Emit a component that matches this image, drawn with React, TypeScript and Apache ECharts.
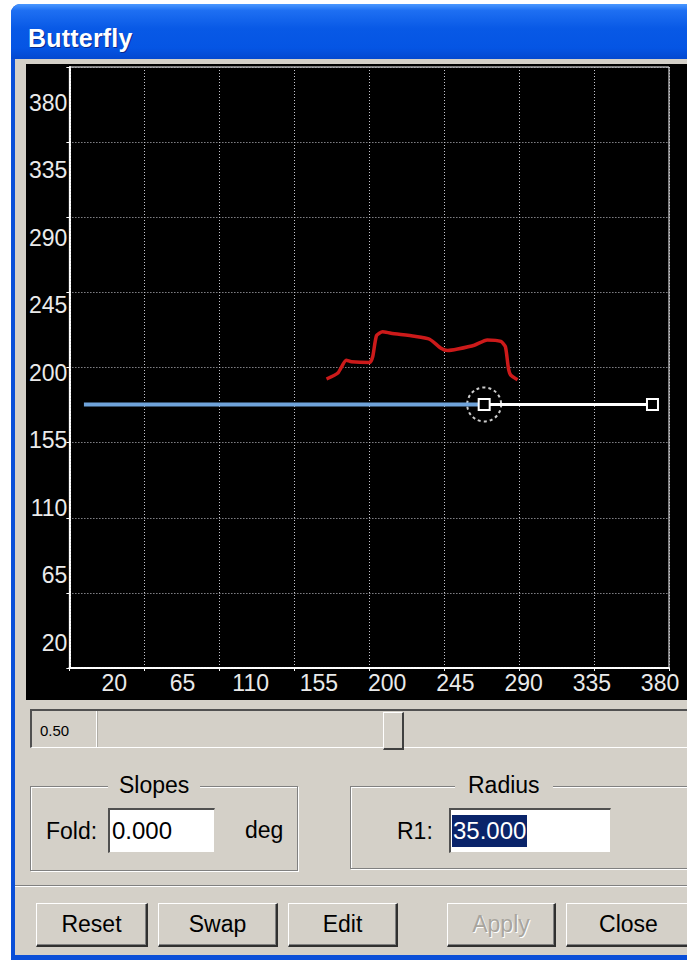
import React, { useEffect, useRef } from 'react';
import * as echarts from 'echarts';

// ---- data ----
const xTickLabels = [20, 65, 110, 155, 200, 245, 290, 335, 380];
const yTickLabels = [20, 65, 110, 155, 200, 245, 290, 335, 380];
const profileX = [160, 167.5, 173, 176.5, 188.5, 190.5, 193, 197, 202.5, 218, 228, 235.5, 240, 246.5, 257.5, 266, 275, 278, 280, 281.5, 286];
const profileY = [196, 200, 208.5, 207.5, 207, 211, 225, 227.5, 226.5, 224.5, 222.5, 216.5, 215, 216, 218.5, 222, 221, 217.5, 203, 198.5, 195.5];
const baselineY = 179;
const blueSegX = [0, 264];
const whiteSegX = [264, 375];
const X_RANGE = [-9.6, 385.9];
const Y_RANGE = [3.3, 404];
const GRID_DIVS = 8;

const FONT = '"Liberation Sans", Arial, Helvetica, sans-serif';
const BG = '#D4D0C8';

const option: any = {
  animation: false,
  backgroundColor: '#000',
  grid: { left: 41, top: 3, width: 602, height: 601, show: true, borderColor: '#ffffff', borderWidth: 1, backgroundColor: '#000' },
  xAxis: [
    {
      type: 'value', min: X_RANGE[0], max: X_RANGE[1], position: 'bottom',
      axisLine: { show: true, onZero: false, lineStyle: { color: '#fff', width: 2, type: [2, 1] } },
      axisTick: { show: false }, splitLine: { show: false },
      axisLabel: { customValues: xTickLabels, color: '#EAEAEA', fontSize: 23, fontFamily: FONT, margin: 3 },
    },
    {
      type: 'value', min: 0, max: GRID_DIVS, interval: 1, position: 'bottom',
      axisLine: { show: false, onZero: false }, axisLabel: { show: false },
      axisTick: { show: true, length: 3, lineStyle: { color: '#fff', width: 1 } },
      splitLine: { show: true, lineStyle: { color: '#C4C4CC', width: 1, type: [1, 2] } },
    },
  ],
  yAxis: [
    {
      type: 'value', min: Y_RANGE[0], max: Y_RANGE[1], position: 'left',
      axisLine: { show: true, onZero: false, lineStyle: { color: '#fff', width: 2, type: [2, 1] } },
      axisTick: { show: false }, splitLine: { show: false },
      axisLabel: { customValues: yTickLabels, color: '#EAEAEA', fontSize: 23, fontFamily: FONT, margin: 2 },
    },
    {
      type: 'value', min: 0, max: GRID_DIVS, interval: 1, position: 'left',
      axisLine: { show: false, onZero: false }, axisLabel: { show: false },
      axisTick: { show: true, length: 3, lineStyle: { color: '#fff', width: 1 } },
      splitLine: { show: true, lineStyle: { color: '#C4C4CC', width: 1, type: [1, 2] } },
    },
  ],
  series: [
    {
      type: 'line', xAxisIndex: 0, yAxisIndex: 0, symbol: 'none', smooth: 0.2,
      data: profileX.map((x, i) => [x, profileY[i]]),
      lineStyle: { color: '#CC1A1A', width: 3.5 },
    },
    {
      type: 'line', xAxisIndex: 0, yAxisIndex: 0, symbol: 'none',
      data: blueSegX.map((x) => [x, baselineY]),
      lineStyle: { color: '#6FA3DA', width: 4 },
    },
    {
      type: 'line', xAxisIndex: 0, yAxisIndex: 0, symbol: 'rect', symbolSize: 11, showSymbol: true,
      data: whiteSegX.map((x) => [x, baselineY]),
      lineStyle: { color: '#fff', width: 3 },
      itemStyle: { color: '#000', borderColor: '#fff', borderWidth: 2 },
    },
    {
      type: 'scatter', xAxisIndex: 0, yAxisIndex: 0, symbol: 'circle', symbolSize: 34,
      data: [[whiteSegX[0], baselineY]],
      itemStyle: { color: 'transparent', borderColor: '#fff', borderWidth: 2, borderType: [3, 3] },
    },
  ],
};

const abs = (l: number, t: number, w: number, h: number, extra: any = {}) => ({
  position: 'absolute' as const, left: l, top: t, width: w, height: h, boxSizing: 'border-box' as const, ...extra,
});

function Button({ left, width, label, disabled }: { left: number; width: number; label: string; disabled?: boolean }) {
  return (
    <div style={abs(left, 903, width, 44, {
      background: BG,
      borderTop: '1px solid #fff', borderLeft: '1px solid #fff',
      borderRight: '2px solid #303030', borderBottom: '2px solid #303030',
      boxShadow: 'inset -1px -1px 0 #808080',
      display: 'flex', alignItems: 'center', justifyContent: 'center',
      fontSize: 23, color: disabled ? '#A8A59E' : '#000',
      textShadow: disabled ? '1px 1px 0 #fff' : 'none',
    })}>{label}</div>
  );
}

export default function App() {
  const ref = useRef<HTMLDivElement>(null);
  useEffect(() => {
    const chart = echarts.init(ref.current!, null, { renderer: 'svg' });
    chart.setOption(option);
    return () => chart.dispose();
  }, []);
  return (
    <div style={{ position: 'fixed', left: 0, top: 0, width: 687, height: 963, background: '#fff', overflow: 'hidden', fontFamily: FONT }}>
      {/* window frame */}
      <div style={abs(11, 4, 700, 956, { background: '#0A4FD8', borderTopLeftRadius: 9 })} />
      {/* title bar */}
      <div style={abs(11, 4, 700, 55, {
        borderTopLeftRadius: 9,
        background: 'linear-gradient(to bottom, #4A98FF 0%, #1E6FF2 12%, #0859E6 45%, #0555E4 80%, #0348D0 100%)',
      })} />
      <div style={{ position: 'absolute', left: 28, top: 24, fontSize: 25, fontWeight: 'bold', color: '#fff', textShadow: '1px 1px 0 #0A2A8E', letterSpacing: 0.2 }}>Butterfly</div>
      {/* client area */}
      <div style={abs(15, 59, 700, 896, { background: BG })} />
      {/* chart panel */}
      <div ref={ref} style={abs(26, 64, 661, 636)} />
      {/* slider */}
      <div style={abs(30, 709, 670, 39, { borderTop: '2px solid #505050', borderLeft: '2px solid #505050', borderBottom: '1px solid #fff', background: BG })} />
      <div style={abs(96, 711, 2, 36, { borderLeft: '1px solid #fff', borderRight: '1px solid #B0ADA6' })} />
      <div style={{ position: 'absolute', left: 40, top: 722, fontSize: 15, color: '#000' }}>0.50</div>
      <div style={abs(383, 712, 21, 38, { background: BG, borderTop: '1px solid #fff', borderLeft: '1px solid #fff', borderRight: '2px solid #404040', borderBottom: '2px solid #404040' })} />
      {/* Slopes group */}
      <div style={abs(30, 786, 268, 85, { border: '1px solid #808080', boxShadow: 'inset 1px 1px 0 #fff, 1px 1px 0 #fff' })} />
      <div style={{ position: 'absolute', left: 108, top: 771, fontSize: 23, background: BG, padding: '0 11px', lineHeight: '28px' }}>Slopes</div>
      <div style={{ position: 'absolute', left: 46, top: 817, fontSize: 23, lineHeight: '28px' }}>Fold:</div>
      <div style={abs(108, 808, 107, 45, { background: '#fff', borderTop: '2px solid #505050', borderLeft: '2px solid #505050', borderRight: '1px solid ' + BG, borderBottom: '1px solid ' + BG })} />
      <div style={{ position: 'absolute', left: 112, top: 817, fontSize: 24, lineHeight: '28px' }}>0.000</div>
      <div style={{ position: 'absolute', left: 245, top: 816, fontSize: 23, lineHeight: '28px' }}>deg</div>
      {/* Radius group */}
      <div style={abs(350, 786, 360, 83, { border: '1px solid #808080', boxShadow: 'inset 1px 1px 0 #fff, 1px 1px 0 #fff' })} />
      <div style={{ position: 'absolute', left: 455, top: 771, fontSize: 23, background: BG, padding: '0 13px', lineHeight: '28px' }}>Radius</div>
      <div style={{ position: 'absolute', left: 397, top: 817, fontSize: 23, lineHeight: '28px' }}>R1:</div>
      <div style={abs(449, 808, 162, 45, { background: '#fff', borderTop: '2px solid #505050', borderLeft: '2px solid #505050', borderRight: '1px solid ' + BG, borderBottom: '1px solid ' + BG })} />
      <div style={{ position: 'absolute', left: 452, top: 815, fontSize: 24, lineHeight: '32px', background: '#0A246A', color: '#fff', padding: '0 1px' }}>35.000</div>
      {/* separator */}
      <div style={abs(15, 885, 700, 2, { borderTop: '1px solid #808080', borderBottom: '1px solid #fff' })} />
      {/* buttons */}
      <Button left={36} width={112} label="Reset" />
      <Button left={158} width={120} label="Swap" />
      <Button left={288} width={110} label="Edit" />
      <Button left={447} width={109} label="Apply" disabled />
      <Button left={566} width={126} label="Close" />
    </div>
  );
}
